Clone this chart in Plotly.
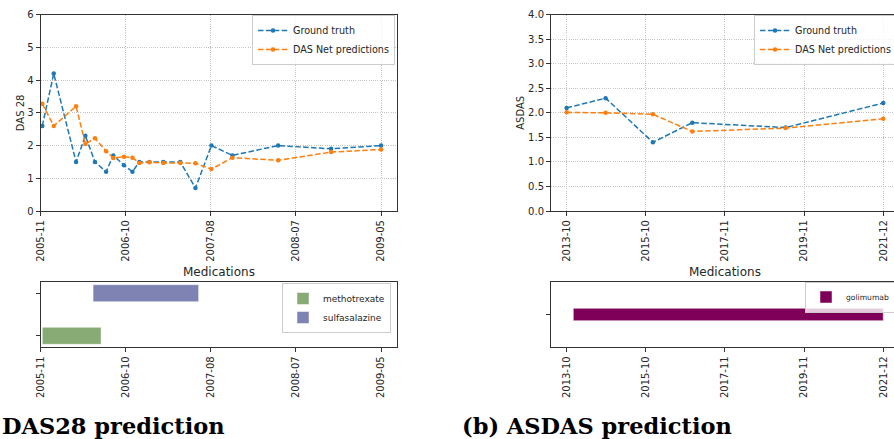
import pandas as pd
import plotly.graph_objects as go

# ---------------- data ----------------
das_dates = ["2005-11-21", "2006-01-03", "2006-03-28", "2006-05-02", "2006-06-07",
             "2006-07-19", "2006-08-15", "2006-09-24", "2006-10-26", "2006-11-21",
             "2006-12-29", "2007-02-19", "2007-04-24", "2007-06-20", "2007-08-19",
             "2007-11-06", "2008-04-26", "2008-11-11", "2009-05-18"]
das_true = [2.6, 4.2, 1.5, 2.3, 1.5, 1.2, 1.7, 1.4, 1.2, 1.5,
            1.5, 1.5, 1.5, 0.7, 2.0, 1.7, 2.0, 1.9, 2.0]
das_pred = [3.28, 2.6, 3.2, 2.05, 2.22, 1.83, 1.62, 1.66, 1.63, 1.47,
            1.49, 1.47, 1.47, 1.46, 1.28, 1.63, 1.55, 1.8, 1.88]
das_tick_vals = ["2005-11-15", "2006-10-01", "2007-08-17", "2008-07-02", "2009-05-18"]
das_tick_labels = ["2005-11", "2006-10", "2007-08", "2008-07", "2009-05"]

das_meds = ["methotrexate", "sulfasalazine"]
das_med_start = ["2005-11-21", "2006-05-31"]
das_med_end = ["2006-06-30", "2007-07-02"]
das_med_colors = ["#88ab75", "#7f83b4"]

asdas_dates = ["2013-10-15", "2014-10-17", "2016-01-05", "2017-01-10", "2019-06-07", "2021-12-12"]
asdas_true = [2.1, 2.3, 1.4, 1.8, 1.7, 2.2]
asdas_pred = [2.01, 2.0, 1.97, 1.62, 1.69, 1.88]
asdas_tick_vals = ["2013-10-15", "2015-10-30", "2017-11-13", "2019-11-28", "2021-12-12"]
asdas_tick_labels = ["2013-10", "2015-10", "2017-11", "2019-11", "2021-12"]

asdas_meds = ["golimumab"]
asdas_med_start = ["2013-12-17"]
asdas_med_end = ["2021-12-12"]
asdas_med_colors = ["#7f0058"]

# ---------------- layout helpers ----------------
W, H = 894, 439
def px_x(p):
    return p / W
def px_y(p):
    return 1 - p / H

TXT = "#262626"
LINE = "#333333"
FONT = "DejaVu Sans"
BLUE = "#1f77b4"
ORANGE = "#ff7f0e"
DASH = "5.5px,2.4px"

fig = go.Figure()

# top-left line chart
fig.add_trace(go.Scatter(x=das_dates, y=das_true, mode="lines+markers", name="Ground truth",
                         line=dict(color=BLUE, width=1.5, dash=DASH), marker=dict(size=4.5, color=BLUE),
                         xaxis="x", yaxis="y", legend="legend"))
fig.add_trace(go.Scatter(x=das_dates, y=das_pred, mode="lines+markers", name="DAS Net predictions",
                         line=dict(color=ORANGE, width=1.5, dash=DASH), marker=dict(size=4.5, color=ORANGE),
                         xaxis="x", yaxis="y", legend="legend"))
# top-right line chart
fig.add_trace(go.Scatter(x=asdas_dates, y=asdas_true, mode="lines+markers", name="Ground truth",
                         line=dict(color=BLUE, width=1.5, dash=DASH), marker=dict(size=4.5, color=BLUE),
                         xaxis="x2", yaxis="y2", legend="legend2"))
fig.add_trace(go.Scatter(x=asdas_dates, y=asdas_pred, mode="lines+markers", name="DAS Net predictions",
                         line=dict(color=ORANGE, width=1.5, dash=DASH), marker=dict(size=4.5, color=ORANGE),
                         xaxis="x2", yaxis="y2", legend="legend2"))

# medication bars
def add_meds(names, starts, ends, colors, xa, ya, leg):
    for i, (n, s, e, c) in enumerate(zip(names, starts, ends, colors)):
        dur = (pd.Timestamp(e) - pd.Timestamp(s)).total_seconds() * 1000
        fig.add_trace(go.Bar(y=[i], x=[dur], base=[s], orientation="h", width=0.4, name=n,
                             marker=dict(color=c, line=dict(color="rgba(255,255,255,0.6)", width=0.8)),
                             xaxis=xa, yaxis=ya, legend=leg))

add_meds(das_meds, das_med_start, das_med_end, das_med_colors, "x3", "y3", "legend3")
add_meds(asdas_meds, asdas_med_start, asdas_med_end, asdas_med_colors, "x4", "y4", "legend4")

tickfont = dict(family=FONT, size=10, color=TXT)
common_x = dict(type="date", showline=True, linecolor=LINE, linewidth=1, ticks="outside",
                ticklen=4, tickcolor=LINE, tickangle=-90, tickfont=tickfont, zeroline=False)
common_y = dict(showline=True, linecolor=LINE, linewidth=1, ticks="outside", ticklen=4,
                tickcolor=LINE, tickfont=tickfont, zeroline=False)
grid = dict(showgrid=True, gridcolor="#c4c4c4", gridwidth=1, griddash="1px,1.2px")

L_dom = [px_x(40.7), px_x(397)]
R_dom = [px_x(551), 1.0]
top_dom = [px_y(211), px_y(14.7)]
med_dom = [px_y(347.3), px_y(281.7)]

leg_common = dict(xanchor="left", yanchor="top", bgcolor="rgba(255,255,255,0.8)",
                  bordercolor="#cccccc", borderwidth=1, itemwidth=30, traceorder="normal")

fig.update_layout(
    width=W, height=H,
    margin=dict(l=0, r=0, t=0, b=0, autoexpand=False),
    paper_bgcolor="white", plot_bgcolor="white",
    barmode="overlay",
    showlegend=True,
    xaxis=dict(common_x, **grid, domain=L_dom, anchor="y", range=["2005-11-15", "2009-07-17"],
               tickvals=das_tick_vals, ticktext=das_tick_labels, mirror=True),
    yaxis=dict(common_y, **grid, domain=top_dom, anchor="x", range=[0, 6], tickvals=[0, 1, 2, 3, 4, 5, 6],
               mirror=True, title=dict(text="DAS 28", font=dict(family=FONT, size=10, color=TXT), standoff=0)),
    xaxis2=dict(common_x, **grid, domain=R_dom, anchor="y2", range=["2013-05-21", "2022-03-23"],
                tickvals=asdas_tick_vals, ticktext=asdas_tick_labels, mirror=True),
    yaxis2=dict(common_y, **grid, domain=top_dom, anchor="x2", range=[0, 4],
                tickvals=[0, 0.5, 1, 1.5, 2, 2.5, 3, 3.5, 4], tickformat=".1f", mirror=False,
                title=dict(text="ASDAS", font=dict(family=FONT, size=10, color=TXT), standoff=1)),
    xaxis3=dict(common_x, domain=L_dom, anchor="y3", range=["2005-11-15", "2009-07-17"],
                tickvals=das_tick_vals, ticktext=das_tick_labels, mirror=True, showgrid=False),
    yaxis3=dict(common_y, domain=med_dom, anchor="x3", range=[-0.27, 1.27], tickvals=[0, 1],
                ticktext=["", ""], mirror=True, showgrid=False),
    xaxis4=dict(common_x, domain=R_dom, anchor="y4", range=["2013-05-21", "2022-03-23"],
                tickvals=asdas_tick_vals, ticktext=asdas_tick_labels, mirror=True, showgrid=False),
    yaxis4=dict(common_y, domain=med_dom, anchor="x4", range=[-1.07, 1.07], tickvals=[0],
                ticktext=[""], mirror=False, showgrid=False),
    legend=dict(leg_common, x=px_x(252), y=px_y(15), font=dict(family=FONT, size=9.6, color=TXT)),
    legend2=dict(leg_common, x=px_x(754), y=px_y(15), font=dict(family=FONT, size=9.6, color=TXT)),
    legend3=dict(leg_common, x=px_x(282), y=px_y(283), font=dict(family=FONT, size=9, color=TXT)),
    legend4=dict(leg_common, x=px_x(805), y=px_y(281.5), font=dict(family=FONT, size=7.6, color=TXT)),
    annotations=[
        dict(text="Medications", x=px_x(219), y=px_y(272), xref="paper", yref="paper", showarrow=False,
             xanchor="center", yanchor="middle", font=dict(family=FONT, size=12, color=TXT)),
        dict(text="Medications", x=px_x(725), y=px_y(272), xref="paper", yref="paper", showarrow=False,
             xanchor="center", yanchor="middle", font=dict(family=FONT, size=12, color=TXT)),
        dict(text="<b>DAS28 prediction</b>", x=0, y=px_y(426), xref="paper", yref="paper", showarrow=False,
             xanchor="left", yanchor="middle", font=dict(family="DejaVu Serif", size=22.5, color="black")),
        dict(text="<b>(b) ASDAS prediction</b>", x=px_x(460), y=px_y(426), xref="paper", yref="paper",
             showarrow=False, xanchor="left", yanchor="middle",
             font=dict(family="DejaVu Serif", size=22.5, color="black")),
    ],
)

fig.write_html("out.html", config={"displayModeBar": False})
